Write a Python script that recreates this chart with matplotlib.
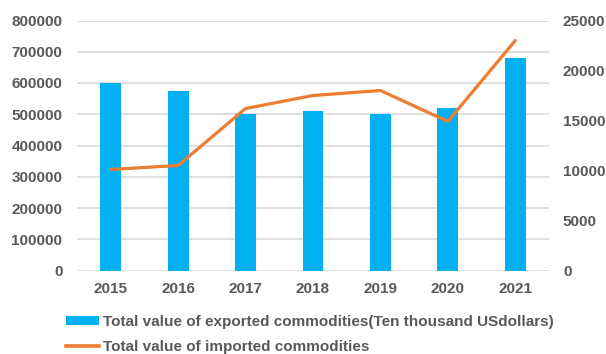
import matplotlib
matplotlib.use("Agg")
import matplotlib.pyplot as plt
from matplotlib.lines import Line2D
from matplotlib.patches import Patch

years = ["2015", "2016", "2017", "2018", "2019", "2020", "2021"]
exports = [600000, 575000, 500000, 510000, 500000, 520000, 680000]
imports = [10100, 10500, 16200, 17500, 18000, 14900, 23000]
left_ticks = [0, 100000, 200000, 300000, 400000, 500000, 600000, 700000, 800000]
right_ticks = [0, 5000, 10000, 15000, 20000, 25000]

bar_color = "#00B0F0"
line_color = "#ED7D31"
text_color = "#595959"
grid_color = "#D9D9D9"
fs = 11

plt.rcParams["font.family"] = ["Liberation Sans", "DejaVu Sans"]
plt.rcParams["font.weight"] = "bold"

fig = plt.figure(figsize=(6.06, 3.54), dpi=100)
W, H = 606, 354
ax = fig.add_axes([77 / W, (H - 270.5) / H, 472 / W, 250 / H])
x = list(range(len(years)))

ax.bar(x, exports, width=0.31, color=bar_color, zorder=2)
ax.set_ylim(0, 800000)
ax.set_xlim(-0.5, len(years) - 0.5)
ax.set_yticks(left_ticks)
ax.set_yticklabels([str(v) for v in left_ticks])
ax.set_xticks(x)
ax.set_xticklabels(years)
ax.grid(axis="y", color=grid_color, linewidth=1.2, zorder=0)
ax.set_axisbelow(True)
for s in ax.spines.values():
    s.set_visible(False)
ax.tick_params(axis="both", length=0, labelsize=fs, labelcolor=text_color)
ax.tick_params(axis="y", pad=10.5)
ax.tick_params(axis="x", pad=8)

ax2 = ax.twinx()
ax2.plot(x, imports, color=line_color, linewidth=2.3, zorder=3, solid_capstyle="round")
ax2.set_ylim(0, 25000)
ax2.set_yticks(right_ticks)
ax2.set_yticklabels([str(v) for v in right_ticks])
for s in ax2.spines.values():
    s.set_visible(False)
ax2.tick_params(axis="y", length=0, labelsize=fs, labelcolor=text_color, pad=10)

handles = [
    Patch(facecolor=bar_color, edgecolor="none"),
    Line2D([0], [0], color=line_color, linewidth=2.6),
]
labels = [
    "Total value of exported commodities(Ten thousand USdollars)",
    "Total value of imported commodities",
]
leg = fig.legend(handles, labels, loc="upper left",
                 bbox_to_anchor=(66 / W, (H - 315) / H),
                 frameon=False, fontsize=fs, handlelength=2.15,
                 handleheight=0.5, handletextpad=0.25, labelspacing=0.72,
                 borderpad=0, borderaxespad=0)
for t in leg.get_texts():
    t.set_color(text_color)
    t.set_fontweight("bold")

fig.savefig("out.png", dpi=100)
